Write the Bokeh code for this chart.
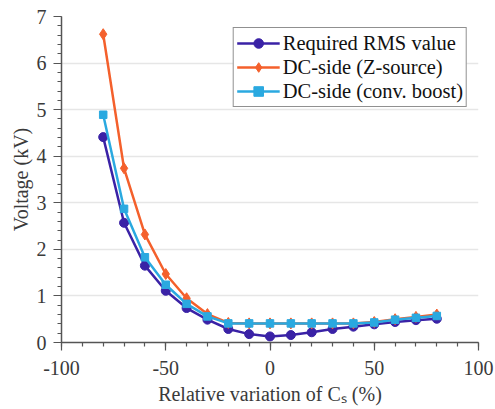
from bokeh.plotting import figure
from bokeh.models import FixedTicker, ColumnDataSource
from bokeh.embed import file_html
from bokeh.resources import INLINE

x_pct = [-80, -70, -60, -50, -40, -30, -20, -10, 0, 10, 20, 30, 40, 50, 60, 70, 80]
rms = [4.41, 2.57, 1.65, 1.11, 0.74, 0.49, 0.29, 0.18, 0.13, 0.16, 0.22, 0.29, 0.34, 0.39, 0.44, 0.48, 0.51]
zsrc = [6.62, 3.74, 2.32, 1.47, 0.95, 0.61, 0.42, 0.41, 0.41, 0.41, 0.41, 0.41, 0.41, 0.44, 0.50, 0.55, 0.60]
conv = [4.89, 2.87, 1.83, 1.24, 0.83, 0.56, 0.41, 0.41, 0.41, 0.41, 0.41, 0.41, 0.41, 0.43, 0.49, 0.53, 0.57]

x_ticks = [-100, -50, 0, 50, 100]
x_tick_labels = ["-100", "-50", "0", "50", "100"]
y_ticks = [0, 1, 2, 3, 4, 5, 6, 7]

labels = ["Required RMS value", "DC-side (Z-source)", "DC-side (conv. boost)"]
colors = ["#3a22a6", "#f4602c", "#2aa9e0"]

FONT = "Liberation Serif"
TXT = "#3a3a3a"

p = figure(width=495, height=409, x_range=(-100, 100), y_range=(0, 7),
           output_backend="svg", toolbar_location=None,
           min_border_left=61, min_border_right=17, min_border_top=16, min_border_bottom=67)
p.outline_line_color = None
p.background_fill_color = "white"

src = ColumnDataSource(dict(x=x_pct, rms=rms, zsrc=zsrc, conv=conv))

p.line("x", "rms", source=src, color=colors[0], line_width=2.5, legend_label=labels[0])
p.scatter("x", "rms", source=src, marker="circle", size=9, color=colors[0], legend_label=labels[0])
p.line("x", "zsrc", source=src, color=colors[1], line_width=2.5, legend_label=labels[1])
p.scatter("x", "zsrc", source=src, marker="diamond", size=11, color=colors[1], legend_label=labels[1])
p.line("x", "conv", source=src, color=colors[2], line_width=2.5, legend_label=labels[2])
p.scatter("x", "conv", source=src, marker="square", size=7.5, color=colors[2], legend_label=labels[2])

p.xaxis.ticker = FixedTicker(ticks=x_ticks, minor_ticks=list(range(-100, 101, 10)))
p.xaxis.major_label_overrides = {t: s for t, s in zip(x_ticks, x_tick_labels)}
p.yaxis.ticker = FixedTicker(ticks=y_ticks, minor_ticks=[i * 0.2 for i in range(36)])

for ax in (p.xaxis, p.yaxis):
    ax.axis_line_color = "#555555"
    ax.axis_line_width = 1.5
    ax.major_tick_line_color = "#555555"
    ax.minor_tick_line_color = "#555555"
    ax.major_tick_line_width = 1.2
    ax.minor_tick_line_width = 1.2
    ax.major_tick_out = 8
    ax.major_tick_in = 0
    ax.minor_tick_out = 4
    ax.minor_tick_in = 0
    ax.major_label_text_font = FONT
    ax.major_label_text_font_size = "20px"
    ax.major_label_text_color = TXT
    ax.axis_label_text_font = FONT
    ax.axis_label_text_font_size = "20px"
    ax.axis_label_text_color = TXT
    ax.axis_label_text_font_style = "normal"

p.xaxis.major_label_standoff = 10
p.yaxis.major_label_standoff = 7
p.xaxis.axis_label = "Relative variation of C\u209b (%)"
p.yaxis.axis_label = "Voltage (kV)"
p.xaxis.axis_label_standoff = 5
p.yaxis.axis_label_standoff = 2

p.xgrid.visible = False
p.ygrid.grid_line_color = "#e6e6e6"
p.ygrid.grid_line_width = 1.5

lg = p.legend[0]
lg.location = "top_right"
lg.margin = 11
lg.padding = 3
lg.spacing = 0
lg.glyph_width = 43
lg.glyph_height = 24
lg.label_height = 24
lg.label_standoff = 3
lg.label_text_font = FONT
lg.label_text_font_size = "20.5px"
lg.label_text_color = "#111111"
lg.border_line_color = "#222222"
lg.border_line_width = 1.5
lg.background_fill_alpha = 1.0

open("out.html", "w").write(file_html(p, INLINE))
